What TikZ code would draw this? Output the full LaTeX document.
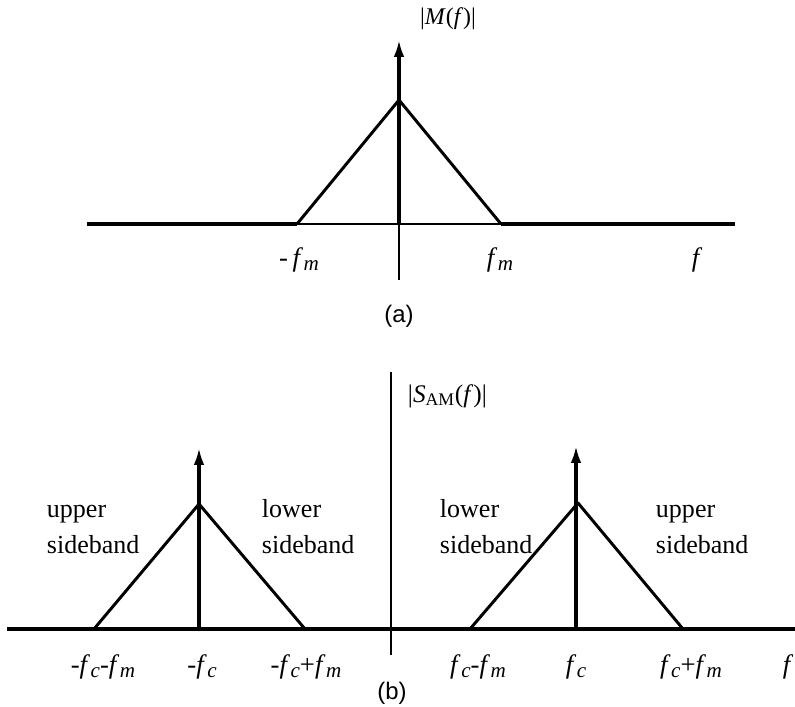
\documentclass[tikz,border=0pt]{standalone}
\usepackage{fontspec}
\setmainfont{Liberation Serif}
\newfontfamily\capfont{Liberation Sans}
\usetikzlibrary{arrows.meta, positioning, calc}
\newcommand{\fsub}[1]{\textit{f}\kern0.02em\raisebox{-0.3ex}{\fontsize{15}{15}\selectfont\textit{#1}}}

\begin{document}
\begin{tikzpicture}[>={Latex[length=12pt,width=7.5pt]}, x=0.025cm, y=-0.025cm,
  every node/.style={font=\fontsize{18}{20}\selectfont},
  axisline/.style={line width=2.4pt},
  thinline/.style={line width=1pt},
  band/.style={line width=2.1pt, line join=round},
  ticktxt/.style={font=\fontsize{19}{20}\selectfont},
  sidetxt/.style={align=left, anchor=base west, font=\fontsize{18.5}{25}\selectfont},
  captxt/.style={font=\capfont\fontsize{17}{18}\selectfont}]
  \useasboundingbox (0,0) rectangle (795,707);

  % (a) message spectrum
  \coordinate (a-l) at (87,224);
  \coordinate (a-r) at (735,224);
  \coordinate (a-o) at (399,224);
  \coordinate (a-bot) at (399,280);
  \coordinate (a-top) at (399,40);
  \coordinate (a-peak) at (399,100);
  \coordinate (a-lo) at (297,224);
  \coordinate (a-hi) at (501,224);
  \draw[axisline] (a-l) -- (a-lo);
  \draw[line width=1.6pt] (a-lo) -- (a-hi);
  \draw[axisline] (a-hi) -- (a-r);
  \draw[thinline] (a-bot) -- (a-o);
  \draw[->, line width=2.2pt] (a-o) -- (a-top);
  \draw[band] (a-lo) -- (a-peak) -- (a-hi);
  \node[font=\fontsize{17}{18}\selectfont] (Mlbl) at (448,19) {|\textit{M}(\textit{f})|};
  \node[ticktxt] (a-fm-neg) at (299,260) {-\,\fsub{m}};
  \node[ticktxt] (a-fm) at (500,260) {\fsub{m}};
  \node[ticktxt] (a-f) at (697,260) {\textit{f}};
  \node[captxt] (a-cap) at (399,316) {(a)};

  % (b) AM spectrum
  \coordinate (b-l) at (7,629);
  \coordinate (b-r) at (795,629);
  \coordinate (b-top) at (391,372);
  \coordinate (b-bot) at (391,655);
  \draw[axisline] (b-l) -- (b-r);
  \draw[line width=1.2pt] (b-top) -- (b-bot);
  \node[font=\fontsize{18}{20}\selectfont, anchor=west] (Slbl) at (403,396)
    {|\textit{S}\textsubscript{AM}(\textit{f})|};

  % negative band
  \coordinate (n-c) at (199,629);
  \coordinate (n-tip) at (199,448);
  \coordinate (n-peak) at (199,504);
  \coordinate (n-lo) at (94,629);
  \coordinate (n-hi) at (305,629);
  \draw[->, line width=2.2pt] (n-c) -- (n-tip);
  \draw[band] (n-lo) -- (n-peak) -- (n-hi);
  \fill (n-c) circle (2.2);

  % positive band
  \coordinate (p-c) at (576,629);
  \coordinate (p-tip) at (576,446);
  \coordinate (p-peak) at (578,503);
  \coordinate (p-lo) at (470,629);
  \coordinate (p-hi) at (683,629);
  \draw[->, line width=2.2pt] (p-c) -- (p-tip);
  \draw[band] (p-lo) -- (p-peak) -- (p-hi);

  % sideband texts
  \node[sidetxt] (n-usb) at (42,553) {upper\\sideband};
  \node[sidetxt] (n-lsb) at (257,553) {lower\\sideband};
  \node[sidetxt] (p-lsb) at (435,553) {lower\\sideband};
  \node[sidetxt] (p-usb) at (651,553) {upper\\sideband};

  % tick labels
  \node[ticktxt] (t1) at (103,667) {-\fsub{c}-\fsub{m}};
  \node[ticktxt] (t2) at (202,667) {-\fsub{c}};
  \node[ticktxt] (t3) at (306,667) {-\fsub{c}+\fsub{m}};
  \node[ticktxt] (t4) at (478,667) {\fsub{c}-\fsub{m}};
  \node[ticktxt] (t5) at (576,667) {\fsub{c}};
  \node[ticktxt] (t6) at (691,667) {\fsub{c}+\fsub{m}};
  \node[ticktxt] (t7) at (788,667) {\textit{f}};
  \node[captxt] (b-cap) at (392,693) {(b)};
\end{tikzpicture}
\end{document}
